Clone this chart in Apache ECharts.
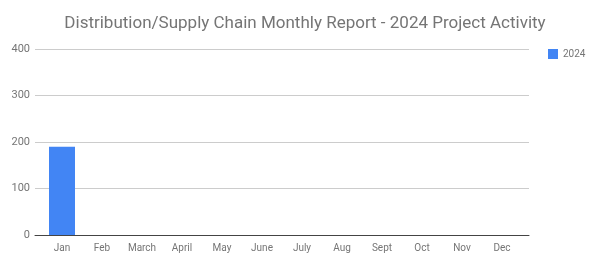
<!DOCTYPE html>
<html><head><meta charset="utf-8">
<script src="https://cdn.jsdelivr.net/npm/echarts@6/dist/echarts.min.js"></script>
<style>html,body{margin:0;padding:0;background:#fff}#c{width:600px;height:266px}</style>
</head><body><div id="c"></div>
<script>
const categories = ['Jan','Feb','March','April','May','June','July','Aug','Sept','Oct','Nov','Dec'];
const values2024 = [190, null, null, null, null, null, null, null, null, null, null, null];
const yTicks = [0, 100, 200, 300, 400];
const seriesName = '2024';

const yMin = yTicks[0], yMax = yTicks[yTicks.length-1];
const chart = echarts.init(document.getElementById('c'), null, {renderer:'canvas'});
chart.setOption({
  backgroundColor:'#fff',
  animation:false,
  textStyle:{fontFamily:'Roboto'},
  title:{
    text:'Distribution/Supply Chain Monthly Report - 2024 Project Activity',
    left:300, top:10, textAlign:'center',
    textStyle:{fontFamily:'Roboto', fontSize:17, fontWeight:'normal', color:'#757575'}
  },
  legend:{
    data:[seriesName], left:543, top:44, itemWidth:10, itemHeight:10, itemGap:6,
    icon:'rect',
    textStyle:{fontFamily:'Roboto', fontSize:10, color:'#757575'}
  },
  grid:[
    {left:35, right:71, top:49, bottom:31, containLabel:false},
    {left:42, right:78, top:49, bottom:31, containLabel:false}
  ],
  xAxis:[
    {gridIndex:0, type:'value', min:0, max:1, show:true,
     axisLine:{show:true, onZero:false, lineStyle:{color:'#444', width:1}},
     axisTick:{show:false}, axisLabel:{show:false}, splitLine:{show:false}},
    {gridIndex:1, type:'category', data:categories,
     axisLine:{show:false},
     axisTick:{show:false},
     axisLabel:{fontFamily:'Roboto', fontSize:10, color:'#757575', margin:8}}
  ],
  yAxis:[
    {gridIndex:0, type:'value', min:yMin, max:yMax, interval:100,
     axisLine:{show:false}, axisTick:{show:false},
     splitLine:{lineStyle:{color:'#cccccc'}},
     axisLabel:{fontFamily:'Roboto', fontSize:11, color:'#757575', margin:5}},
    {gridIndex:1, type:'value', min:yMin, max:yMax, interval:100, show:false}
  ],
  series:[{
    name:seriesName, type:'bar', xAxisIndex:1, yAxisIndex:1,
    data:values2024, barWidth:'65%',
    itemStyle:{color:'#4285f4'}, z:3
  }]
});
</script></body></html>
